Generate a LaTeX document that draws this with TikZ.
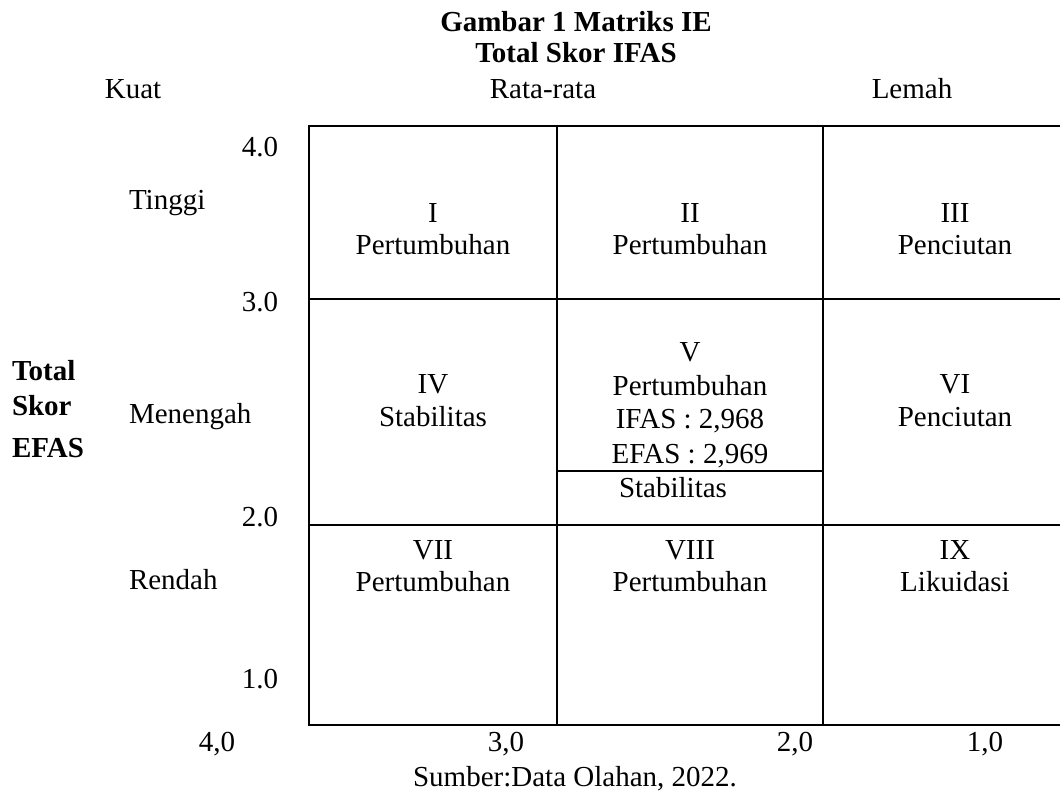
\documentclass[tikz,border=0pt]{standalone}
\usepackage{fontspec}
\setmainfont{Liberation Serif}
\begin{document}
\begin{tikzpicture}[x=0.5pt,y=-0.5pt,
  lbl/.style={inner sep=0pt,outer sep=0pt,font=\fontsize{14.5}{17}\selectfont,anchor=base},
  bl/.style={lbl,font=\fontsize{14.5}{17}\selectfont\bfseries},
  lw/.style={lbl,anchor=base west},
  le/.style={lbl,anchor=base east},
  outer/.style={line width=1.1pt},
  inner/.style={line width=0.9pt}]
\useasboundingbox (0,0) rectangle (1060,792);
% grid coordinates
\coordinate (tl) at (309,126);
\coordinate (tr) at (1060,126);
\coordinate (bl) at (309,725);
\coordinate (br) at (1060,725);
\coordinate (c1t) at (557,126); \coordinate (c1b) at (557,725);
\coordinate (c2t) at (823,126); \coordinate (c2b) at (823,725);
\coordinate (r1l) at (309,299); \coordinate (r1r) at (1060,299);
\coordinate (r2l) at (309,525); \coordinate (r2r) at (1060,525);
\coordinate (vl) at (557,471); \coordinate (vr) at (823,471);
\draw[outer] (tr) -- (tl) -- (bl) -- (br);
\draw[inner] (c1t) -- (c1b) (c2t) -- (c2b) (r1l) -- (r1r) (r2l) -- (r2r) (vl) -- (vr);
% titles
\node[bl] (t1) at (576,32) {Gambar 1 Matriks IE};
\node[bl] (t2) at (576,63) {Total Skor IFAS};
\node[lbl] (kuat) at (133,99) {Kuat};
\node[lbl] (rata) at (543,99) {Rata-rata};
\node[lbl] (lemah) at (912,99) {Lemah};
% left axis
\node[le] (y4) at (278,156) {4.0};
\node[le] (y3) at (278,311) {3.0};
\node[le] (y2) at (278,526) {2.0};
\node[le] (y1) at (278,688) {1.0};
\node[lw] (tinggi) at (129,209) {Tinggi};
\node[lw] (menengah) at (129,423) {Menengah};
\node[lw] (rendah) at (129,589) {Rendah};
\node[bl,anchor=base west] (e1) at (12,380) {Total};
\node[bl,anchor=base west] (e2) at (12,415) {Skor};
\node[bl,anchor=base west] (e3) at (12,457) {EFAS};
% cells
\node[lbl] (c1a) at (433,222) {I};
\node[lbl] (c1b') at (433,254) {Pertumbuhan};
\node[lbl] (c2a) at (690,222) {II};
\node[lbl] (c2b') at (690,254) {Pertumbuhan};
\node[lbl] (c3a) at (955,222) {III};
\node[lbl] (c3b) at (955,254) {Penciutan};
\node[lbl] (c4a) at (433,393) {IV};
\node[lbl] (c4b) at (433,426) {Stabilitas};
\node[lbl] (c5a) at (690,361) {V};
\node[lbl] (c5b) at (690,395) {Pertumbuhan};
\node[lbl] (c5c) at (690,428) {IFAS : 2,968};
\node[lbl] (c5d) at (690,463) {EFAS : 2,969};
\node[lbl] (c5e) at (673,497) {Stabilitas};
\node[lbl] (c6a) at (955,393) {VI};
\node[lbl] (c6b) at (955,426) {Penciutan};
\node[lbl] (c7a) at (433,559) {VII};
\node[lbl] (c7b) at (433,591) {Pertumbuhan};
\node[lbl] (c8a) at (690,559) {VIII};
\node[lbl] (c8b) at (690,591) {Pertumbuhan};
\node[lbl] (c9a) at (955,559) {IX};
\node[lbl] (c9b) at (955,591) {Likuidasi};
% bottom axis
\node[lbl] (x4) at (217,751) {4,0};
\node[lbl] (x3) at (506,751) {3,0};
\node[lbl] (x2) at (795,751) {2,0};
\node[lbl] (x1) at (985,751) {1,0};
\node[lbl] (src) at (575,786) {Sumber:Data Olahan, 2022.};
\end{tikzpicture}
\end{document}
